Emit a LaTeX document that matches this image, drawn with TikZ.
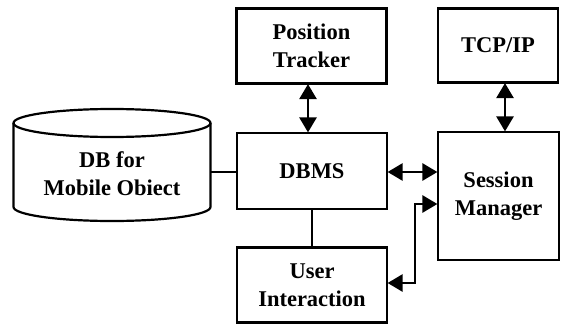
\documentclass[tikz,border=0pt]{standalone}
\usepackage{fontspec}
\setmainfont{Liberation Serif}
\usetikzlibrary{arrows.meta,shapes.geometric}
\begin{document}
\begin{tikzpicture}[x=1pt,y=-1pt,
  box/.style={draw,line width=2.2pt,inner sep=0pt},
  lbl/.style={font=\fontsize{22.5}{28}\selectfont\bfseries,align=center},
  link/.style={line width=2.6pt},
  tip/.tip={Triangle[length=15pt,width=17pt]},
  dbl/.style={link,tip-tip,shorten <=-0.5pt,shorten >=-0.5pt}]
\useasboundingbox (0,0) rectangle (573,324);
% rectangular blocks
\node[box,minimum width=150pt,minimum height=75pt] (pt) at (311.5,46) {};
\node[lbl] at (pt) {Position\\Tracker};
\node[box,minimum width=150pt,minimum height=76pt] (dbms) at (312,171) {};
\node[lbl] at (dbms) {DBMS};
\node[box,minimum width=150pt,minimum height=75pt] (ui) at (312,285) {};
\node[lbl] at (ui) {User\\Interaction};
\node[box,minimum width=120pt,minimum height=74pt] (tcp) at (498,45.5) {};
\node[lbl] at (tcp) {TCP/IP};
\node[box,minimum width=121pt,minimum height=128pt] (sm) at (498.5,196) {};
\node[lbl] at (sm) {Session\\Manager};
% database cylinder
\draw[line width=2.2pt] (13.5,123) -- (13.5,207) arc[start angle=180,end angle=0,x radius=98.5,y radius=14] -- (210.5,123);
\draw[line width=2.2pt] (112,123) ellipse[x radius=98.5,y radius=14];
\node[lbl] (db) at (112,174) {DB for\\Mobile Obiect};
\coordinate (dbe) at (210.5,172);
% connectors
\draw[box] (dbe) -- (dbms.west |- dbe);
\draw[dbl] (pt.south -| 308,0) -- (dbms.north -| 308,0);
\draw[dbl] (tcp.south -| 505,0) -- (sm.north -| 505,0);
\draw[dbl] (dbms.east |- 0,172) -- (sm.west |- 0,172);
\draw[box] (dbms.south -| 312,0) -- (ui.north -| 312,0);
\coordinate (bend1) at (415,204);
\coordinate (bend2) at (415,283);
\draw[dbl] (sm.west |- bend1) -- (bend1) -- (bend2) -- (ui.east |- bend2);
\end{tikzpicture}
\end{document}
